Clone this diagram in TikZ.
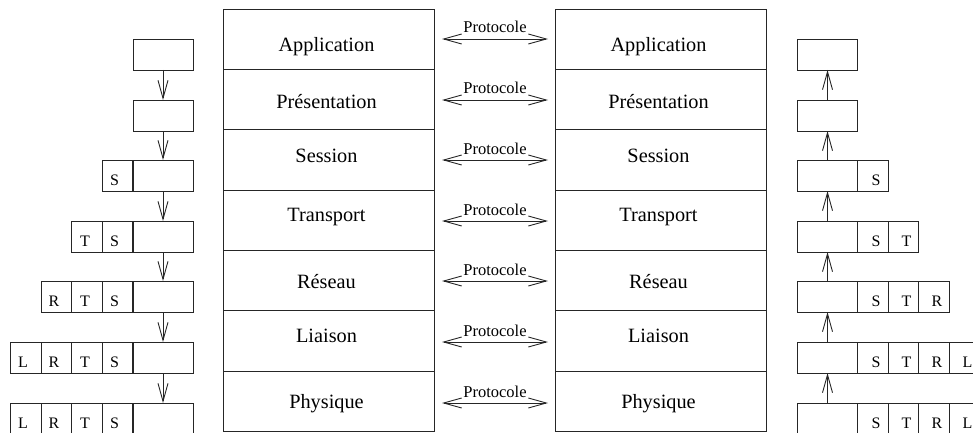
\documentclass[tikz,border=0pt]{standalone}
\usepackage{fontspec}
\setmainfont{Liberation Serif}
\usetikzlibrary{arrows.meta}
\begin{document}
\begin{tikzpicture}[x=1pt,y=-1pt,
  frame/.style={draw=black!85, line width=0.9pt, rectangle, inner sep=0pt, outer sep=0pt},
  layer/.style={frame, minimum width=211pt, minimum height=60.36pt},
  pdubox/.style={frame, minimum width=60pt, minimum height=31pt},
  hdrbox/.style={frame, minimum width=30.5pt, minimum height=31pt},
  layertext/.style={font=\fontsize{20.3}{24}\selectfont, anchor=base, inner sep=0pt},
  hdrtext/.style={font=\fontsize{16}{18}\selectfont, anchor=base, inner sep=0pt},
  prototext/.style={font=\fontsize{16.5}{18}\selectfont, anchor=base, inner sep=0pt},
  barbtip/.tip={Straight Barb[length=18pt,width=10pt]},
  barb/.style={draw=black!85, line width=0.9pt, -barbtip},
  proto/.style={draw=black!85, line width=0.9pt, barbtip-barbtip},
]
\useasboundingbox (0,0) rectangle (973,433);
\clip (0,0) rectangle (973,433);

% the two seven-layer stacks
\foreach \name/\base [count=\k] in {Application/52, Présentation/108, Session/162,
    Transport/221, Réseau/288, Liaison/342, Physique/408} {
  \node[layer] (sa\k) at (328.5, {9+60.36*(\k-0.5)}) {};
  \node[layer] (sb\k) at (660.5, {9+60.36*(\k-0.5)}) {};
  \node[layertext] (ta\k) at (326.5, \base) {\name};
  \node[layertext] (tb\k) at (658.5, \base) {\name};
}

% peer protocols between matching layers
\foreach \t [count=\i] in {39,100,160,221,281,342,403} {
  \coordinate (pl\i) at (442, \t);
  \coordinate (pr\i) at (548, \t);
  \draw[proto] (pl\i) -- (pr\i);
  \node[prototext] (pt\i) at (495, \t-6) {Protocole};
}

% data units with their headers, sending side (left) and receiving side (right)
\foreach \t [count=\i] in {39,100,160,221,281,342,403} {
  \node[pdubox] (lm\i) at (163, \t+15.5) {};
  \node[pdubox] (rm\i) at (827.5, \t+15.5) {};
  \ifnum\i>2
    \node[hdrbox] (ls\i) at (117.5, \t+15.5) {};
    \node[hdrtext] at ([xshift=-3pt,yshift=6pt]ls\i.south) {S};
    \node[hdrbox] (rs\i) at (873, \t+15.5) {};
    \node[hdrtext] at ([xshift=3pt,yshift=6pt]rs\i.south) {S};
  \fi
  \ifnum\i>3
    \node[hdrbox] (lt\i) at (87, \t+15.5) {};
    \node[hdrtext] at ([xshift=-2pt,yshift=6pt]lt\i.south) {T};
    \node[hdrbox] (rt\i) at (903.5, \t+15.5) {};
    \node[hdrtext] at ([xshift=3pt,yshift=6pt]rt\i.south) {T};
  \fi
  \ifnum\i>4
    \node[hdrbox] (lr\i) at (56.5, \t+15.5) {};
    \node[hdrtext] at ([xshift=-2.5pt,yshift=6pt]lr\i.south) {R};
    \node[hdrbox] (rr\i) at (934, \t+15.5) {};
    \node[hdrtext] at ([xshift=3pt,yshift=6pt]rr\i.south) {R};
  \fi
  \ifnum\i>5
    \node[hdrbox] (ll\i) at (26, \t+15.5) {};
    \node[hdrtext] at ([xshift=-3pt,yshift=6pt]ll\i.south) {L};
    \node[hdrbox] (rl\i) at (964.5, \t+15.5) {};
    \node[hdrtext] at ([xshift=3pt,yshift=6pt]rl\i.south) {L};
  \fi
}

% encapsulation goes down, decapsulation goes up
\foreach \i in {1,...,6} {
  \pgfmathtruncatemacro\j{\i+1}
  \draw[barb] (lm\i.south) -- (lm\j.north);
  \draw[barb] (rm\j.north) -- (rm\i.south);
}
\end{tikzpicture}
\end{document}
